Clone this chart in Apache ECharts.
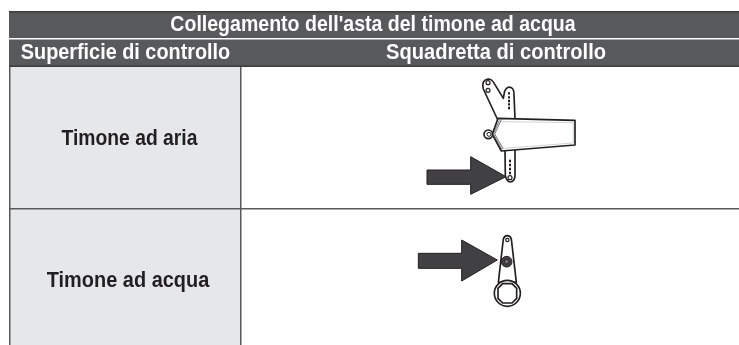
<!DOCTYPE html>
<html>
<head>
<meta charset="utf-8">
<style>
  html, body { margin: 0; padding: 0; background: #fff; }
  #chart { width: 739px; height: 345px; }
</style>
</head>
<body>
<div id="chart"></div>
<script src="https://cdn.jsdelivr.net/npm/echarts@6/dist/echarts.min.js"></script>
<script>
const tableTitle = "Collegamento dell'asta del timone ad acqua";
const columnTitles = ['Superficie di controllo', 'Squadretta di controllo'];
const rowLabels = ['Timone ad aria', 'Timone ad acqua'];

const font = '"Liberation Sans", sans-serif';
const headerColor = '#58595b';
const lineColor = '#58595b';
const cellColor = '#e6e7e8';
const inkColor = '#231f20';
const arrowColor = '#414042';

function rect(x, y, width, height, fill) {
  return { type: 'rect', shape: { x, y, width, height }, style: { fill } };
}

// Fonts here are wider than the original, so squeeze the text a little
function label(text, x, y, fill, squeeze) {
  return {
    type: 'text',
    x,
    y,
    scaleX: squeeze,
    scaleY: 1.08,
    style: { text, fill, font: `bold 20px ${font}`, align: 'center', verticalAlign: 'middle' }
  };
}

function path(d, style) {
  return { type: 'path', shape: { pathData: d }, style };
}

function outline(d) {
  return path(d, { fill: '#fff', stroke: inkColor, lineWidth: 5, lineJoin: 'round' });
}

function arrow(d) {
  return path(d, { fill: arrowColor, stroke: inkColor, lineWidth: 3, lineJoin: 'miter' });
}

function circle(cx, cy, r, fill, lineWidth) {
  return {
    type: 'circle',
    shape: { cx, cy, r },
    style: { fill, stroke: inkColor, lineWidth: lineWidth === undefined ? 3 : lineWidth }
  };
}

function dots(x, ys) {
  return ys.map(y => rect(x - 3, y - 3.5, 6, 7, inkColor));
}

// Pictures are drawn in the 3x space of their crop, then scaled down
function picture(x, y, children) {
  return { type: 'group', x, y, scaleX: 1 / 3, scaleY: 1 / 3, children };
}

function airHorn() {
  return picture(400, 65, [
    outline('M292 162 L250 72 Q243 46 264 42 Q276 42 283 56 L310 100 L314 78 Q322 62 334 68 Q343 74 342 90 L345 162 Z'),
    circle(264, 53, 6, '#fff', 3.5),
    circle(264, 76, 6, '#fff', 3.5),
    ...dots(327, [85, 97, 108, 118, 129]),
    outline('M315 255 L316 332 Q320 350 331 351 Q343 350 345 334 L345 252 Z'),
    ...dots(330, [288, 300, 312, 324]),
    circle(330, 338, 6, '#fff', 3.5),
    circle(265, 208, 13, '#fff', 5),
    circle(267, 208, 6, '#fff', 3),
    outline('M294 160 L525 166 L525 240 L304 258 L277 208 Z'),
    path('M304 164 L284 207 L310 252 M298 166 L280 207 L306 254', { fill: 'none', stroke: '#58595b', lineWidth: 2.5 }),
    path('M304 170 L520 173 L520 234 L310 250', { fill: 'none', stroke: '#a7a9ac', lineWidth: 1.5 }),
    arrow('M81 315 L212 315 L212 275 L318 335 L212 388 L212 358 L81 358 Z')
  ]);
}

function waterHorn() {
  return picture(400, 225, [
    outline('M310 42 Q313 32 322 32 Q331 32 334 42 L349 172 L295 172 Z'),
    circle(322, 45, 5, '#fff', 3.5),
    circle(320, 110, 16, '#414042', 3),
    circle(320, 110, 7, '#6d6e71', 2.5),
    circle(322, 205, 39, '#fff', 5),
    outline('M308 176 L336 176 L350 190 L350 220 L336 234 L308 234 L294 220 L294 190 Z'),
    arrow('M55 85 L185 85 L185 45 L292 105 L185 168 L185 130 L55 130 Z')
  ]);
}

const chart = echarts.init(document.getElementById('chart'), null, { renderer: 'canvas' });

chart.setOption({
  animation: false,
  backgroundColor: '#fff',
  // The table has no axes, the whole page is one custom mark
  series: [
    {
      type: 'custom',
      coordinateSystem: 'none',
      silent: true,
      data: [0],
      renderItem() {
        return {
          type: 'group',
          children: [
            // cells
            rect(10, 67, 230, 278, cellColor),
            // header bands
            rect(9, 11, 730, 56, headerColor),
            rect(9, 11, 730, 1.5, '#3c3c3e'),
            rect(9, 38, 730, 1.5, '#fff'),
            rect(9, 65.5, 730, 1.5, '#3c3c3e'),
            // grid lines
            rect(9, 67, 1.5, 278, lineColor),
            rect(240, 67, 1.5, 278, lineColor),
            rect(9, 208, 730, 1.5, lineColor),
            // texts
            label(tableTitle, 373, 25, '#fff', 0.977),
            label(columnTitles[0], 125.5, 53, '#fff', 0.992),
            label(columnTitles[1], 496, 53, '#fff', 1.005),
            label(rowLabels[0], 129.5, 139, inkColor, 0.965),
            label(rowLabels[1], 128, 281, inkColor, 0.997),
            airHorn(),
            waterHorn()
          ]
        };
      }
    }
  ]
});
</script>
</body>
</html>
